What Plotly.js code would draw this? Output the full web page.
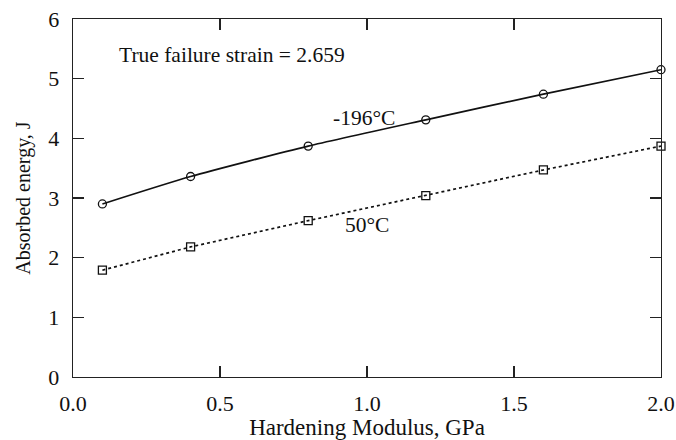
<!DOCTYPE html>
<html><head><meta charset="utf-8">
<script src="https://cdn.plot.ly/plotly-3.0.1.min.js"></script>
<style>body{margin:0;background:#fff}#c{width:676px;height:440px}</style>
</head><body><div id="c"></div>
<script>
var modulus = [0.1, 0.4, 0.8, 1.2, 1.6, 2.0];
var energyCold = [2.90, 3.36, 3.87, 4.31, 4.74, 5.15];
var energyWarm = [1.79, 2.18, 2.62, 3.04, 3.47, 3.87];
var xTicks = [0.0, 0.5, 1.0, 1.5, 2.0];
var xTickText = ["0.0", "0.5", "1.0", "1.5", "2.0"];
var yTicks = [0, 1, 2, 3, 4, 5, 6];

var font = {family: "Liberation Serif, Times New Roman, serif", color: "#111"};
function f(s) { return Object.assign({size: s}, font); }
var traces = [
  {x: modulus, y: energyCold, mode: "lines+markers", line: {color: "#111", width: 1.7, shape: "spline", smoothing: 0.6},
   marker: {symbol: "circle-open", size: 8, color: "#111", line: {width: 1.3}}, cliponaxis: false},
  {x: modulus, y: energyWarm, mode: "lines+markers", line: {color: "#111", width: 1.7, dash: "dot"},
   marker: {symbol: "square-open", size: 8, color: "#111", line: {width: 1.3}}, cliponaxis: false}
];
var axisCommon = {showgrid: false, zeroline: false, showline: true, linecolor: "#222", linewidth: 1.3,
  mirror: "allticks", ticks: "inside", ticklen: 11, tickwidth: 1.3, tickcolor: "#222",
  tickfont: f(22)};
var layout = {
  width: 676, height: 440, margin: {l: 73, r: 15, t: 19, b: 63},
  paper_bgcolor: "#fff", plot_bgcolor: "#fff", showlegend: false,
  xaxis: Object.assign({}, axisCommon, {range: [0, 2.0], tickvals: xTicks, ticktext: xTickText,
    ticklabelstandoff: 6,
    title: {text: "Hardening Modulus, GPa", font: f(23), standoff: 2}}),
  yaxis: Object.assign({}, axisCommon, {range: [0, 6], tickvals: yTicks, ticklabelstandoff: 8,
    title: {text: "Absorbed energy, J", font: f(20), standoff: 12}}),
  annotations: [
    {x: 0.15, y: 5.4, xanchor: "left", yanchor: "middle", text: "True failure strain = 2.659", showarrow: false, font: f(21.5)},
    {x: 0.99, y: 4.34, xanchor: "center", yanchor: "middle", text: "-196°C", showarrow: false, font: f(21.5)},
    {x: 1.0, y: 2.55, xanchor: "center", yanchor: "middle", text: "50°C", showarrow: false, font: f(21.5)}
  ]
};
Plotly.newPlot("c", traces, layout, {displayModeBar: false, staticPlot: true});
</script></body></html>
